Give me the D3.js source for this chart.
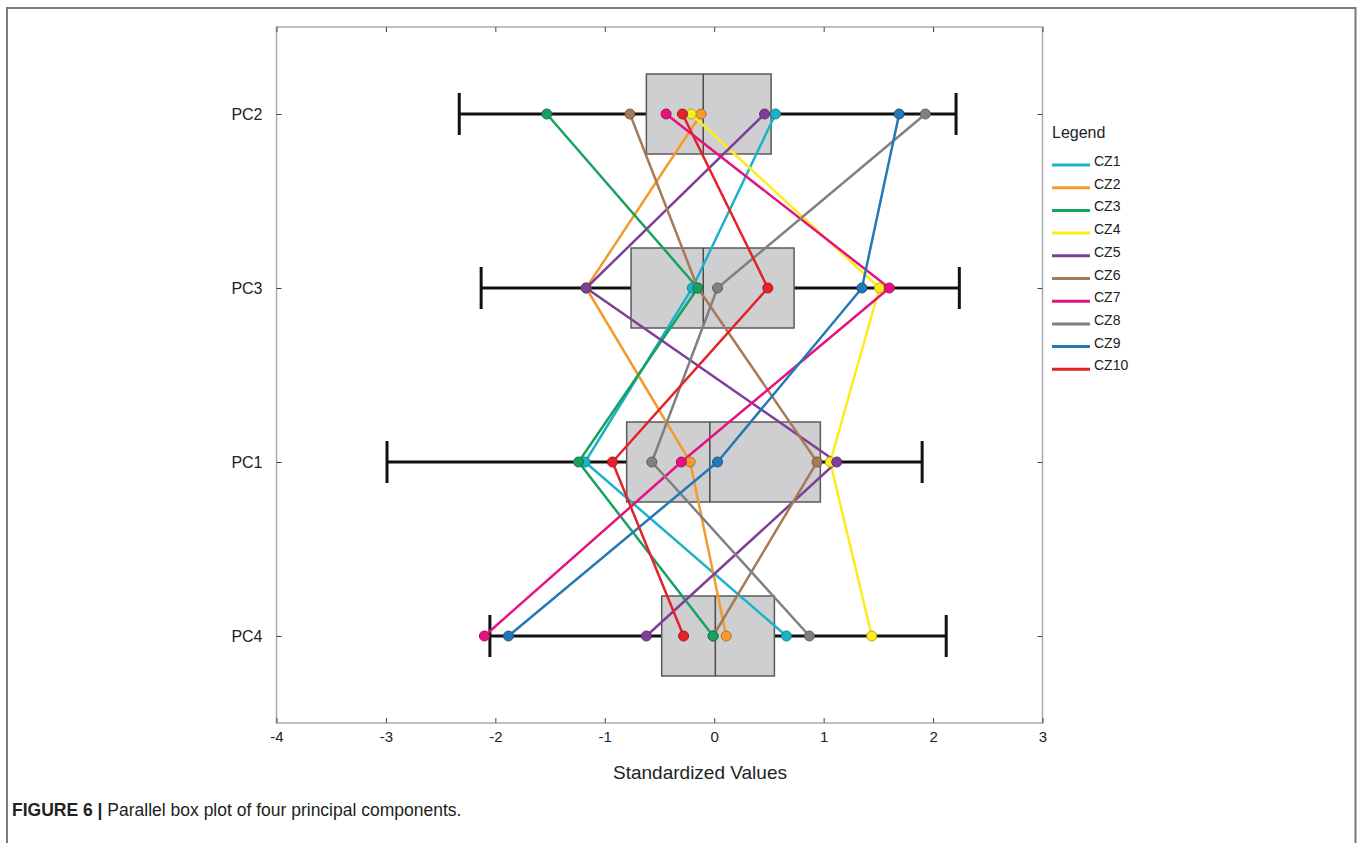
<!DOCTYPE html>
<html>
<head>
<meta charset="utf-8">
<script src="https://cdn.jsdelivr.net/npm/d3@7"></script>
<style>
  html, body { margin: 0; padding: 0; background: #fff; }
  svg { display: block; font-family: "Liberation Sans", Arial, Helvetica, sans-serif; }
</style>
</head>
<body>
<svg id="chart" width="1360" height="843"></svg>
<script>
// ---- Data ----
const components = ["PC2", "PC3", "PC1", "PC4"];
const xTicks = [-4, -3, -2, -1, 0, 1, 2, 3];
const zones = ["CZ1", "CZ2", "CZ3", "CZ4", "CZ5", "CZ6", "CZ7", "CZ8", "CZ9", "CZ10"];
const zoneColors = ["#1cb3c8", "#f59a2c", "#17a35e", "#fcec1c", "#7d3f98", "#a67a58",
                    "#e5127f", "#808080", "#2378b5", "#e3222a"];
// values per zone in the order of components: PC2, PC3, PC1, PC4
const cz1 = [0.56, -0.20, -1.18, 0.66];
const cz2 = [-0.12, -1.17, -0.22, 0.11];
const cz3 = [-1.53, -0.15, -1.24, -0.01];
const cz4 = [-0.21, 1.51, 1.06, 1.44];
const cz5 = [0.46, -1.17, 1.12, -0.62];
const cz6 = [-0.77, -0.15, 0.94, -0.01];
const cz7 = [-0.44, 1.60, -0.30, -2.10];
const cz8 = [1.93, 0.03, -0.57, 0.87];
const cz9 = [1.69, 1.35, 0.03, -1.88];
const cz10 = [-0.29, 0.49, -0.93, -0.28];
const zoneValues = [cz1, cz2, cz3, cz4, cz5, cz6, cz7, cz8, cz9, cz10];
// box statistics per component: whisker low, Q1, median, Q3, whisker high
const whiskerLow = [-2.33, -2.13, -2.99, -2.05];
const q1 = [-0.62, -0.76, -0.80, -0.48];
const median = [-0.10, -0.10, -0.04, 0.01];
const q3 = [0.52, 0.73, 0.97, 0.55];
const whiskerHigh = [2.21, 2.24, 1.90, 2.12];
// order in which the dots are stacked (first = bottom)
const dotOrder = ["CZ6", "CZ1", "CZ2", "CZ3", "CZ4", "CZ5", "CZ7", "CZ8", "CZ9", "CZ10"];

// ---- Layout ----
const svg = d3.select("#chart");
const L = 276.5, R = 1042.5, T = 27, B = 723;
const x = d3.scaleLinear().domain([-4, 3]).range([L, R]);
const y = d3.scalePoint().domain(components).range([T, B]).padding(0.5);
const boxHalf = 40, capHalf = 21;

// outer figure border
svg.append("path")
  .attr("d", `M7,850 L7,8 L1355.5,8 L1355.5,850`)
  .attr("fill", "none").attr("stroke", "#7a7a7a").attr("stroke-width", 2);

// plot frame
svg.append("rect").attr("x", L).attr("y", T).attr("width", R - L).attr("height", B - T)
  .attr("fill", "none").attr("stroke", "#ababab").attr("stroke-width", 1.5);

// axes
function styleAxis(size) {
  return g => {
    g.select(".domain").remove();
    g.selectAll(".tick line").attr("stroke", "#444").attr("stroke-width", 1);
    g.selectAll(".tick text").attr("fill", "#222").style("font-size", size + "px")
      .style("font-family", "'Liberation Sans', Arial, sans-serif");
  };
}
svg.append("g").attr("transform", `translate(0,${B})`)
  .call(d3.axisBottom(x).tickValues(xTicks).tickFormat(d => String(d)).tickSize(-5).tickPadding(8))
  .call(styleAxis(15));
svg.append("g").attr("transform", `translate(0,${T})`)
  .call(d3.axisTop(x).tickValues(xTicks).tickFormat("").tickSize(-5))
  .call(styleAxis(15));
svg.append("g").attr("transform", `translate(${L},0)`)
  .call(d3.axisLeft(y).tickSize(-5).tickPadding(14))
  .call(styleAxis(16));
svg.append("g").attr("transform", `translate(${R},0)`)
  .call(d3.axisRight(y).tickSize(-5).tickFormat(""))
  .call(styleAxis(16));

// axis title
svg.append("text").attr("x", 700).attr("y", 779).attr("text-anchor", "middle")
  .attr("fill", "#222").style("font-size", "19px").text("Standardized Values");

// boxes and whiskers
const boxG = svg.append("g");
components.forEach((c, i) => {
  const cy = y(c);
  boxG.append("line").attr("x1", x(whiskerLow[i])).attr("x2", x(q1[i]))
    .attr("y1", cy).attr("y2", cy).attr("stroke", "#111").attr("stroke-width", 3);
  boxG.append("line").attr("x1", x(q3[i])).attr("x2", x(whiskerHigh[i]))
    .attr("y1", cy).attr("y2", cy).attr("stroke", "#111").attr("stroke-width", 3);
  [whiskerLow[i], whiskerHigh[i]].forEach(v => {
    boxG.append("line").attr("x1", x(v)).attr("x2", x(v))
      .attr("y1", cy - capHalf).attr("y2", cy + capHalf)
      .attr("stroke", "#111").attr("stroke-width", 3);
  });
  boxG.append("rect").attr("x", x(q1[i])).attr("y", cy - boxHalf)
    .attr("width", x(q3[i]) - x(q1[i])).attr("height", 2 * boxHalf)
    .attr("fill", "#cfcfd1").attr("stroke", "#5a5a5a").attr("stroke-width", 1.5);
  boxG.append("line").attr("x1", x(median[i])).attr("x2", x(median[i]))
    .attr("y1", cy - boxHalf).attr("y2", cy + boxHalf)
    .attr("stroke", "#4a4a4a").attr("stroke-width", 1.5);
});

// parallel lines
const line = d3.line().x(d => x(d.v)).y(d => y(d.c));
const lineG = svg.append("g");
zones.forEach((z, k) => {
  const pts = components.map((c, i) => ({ c, v: zoneValues[k][i] }));
  lineG.append("path").datum(pts).attr("d", line)
    .attr("fill", "none").attr("stroke", zoneColors[k]).attr("stroke-width", 2.5)
    .attr("stroke-linejoin", "round");
});
// dots
const dotG = svg.append("g");
dotOrder.forEach(z => {
  const k = zones.indexOf(z);
  components.forEach((c, i) => {
    dotG.append("circle").attr("cx", x(zoneValues[k][i])).attr("cy", y(c)).attr("r", 5)
      .attr("fill", zoneColors[k])
      .attr("stroke", d3.color(zoneColors[k]).darker(0.9)).attr("stroke-width", 1);
  });
});

// legend
const lg = svg.append("g");
lg.append("text").attr("x", 1052).attr("y", 138).attr("fill", "#222")
  .style("font-size", "16px").text("Legend");
zones.forEach((z, k) => {
  const ly = 161 + k * 22.7;
  lg.append("line").attr("x1", 1052).attr("x2", 1090).attr("y1", ly + 4).attr("y2", ly + 4)
    .attr("stroke", zoneColors[k]).attr("stroke-width", 3);
  lg.append("text").attr("x", 1094).attr("y", ly + 5).attr("fill", "#222")
    .style("font-size", "14px").text(z);
});

// caption
const cap = svg.append("text").attr("x", 12).attr("y", 816).attr("fill", "#222")
  .style("font-size", "17.5px");
cap.append("tspan").attr("font-weight", "bold").text("FIGURE 6 | ");
cap.append("tspan").text("Parallel box plot of four principal components.");
</script>
</body>
</html>
